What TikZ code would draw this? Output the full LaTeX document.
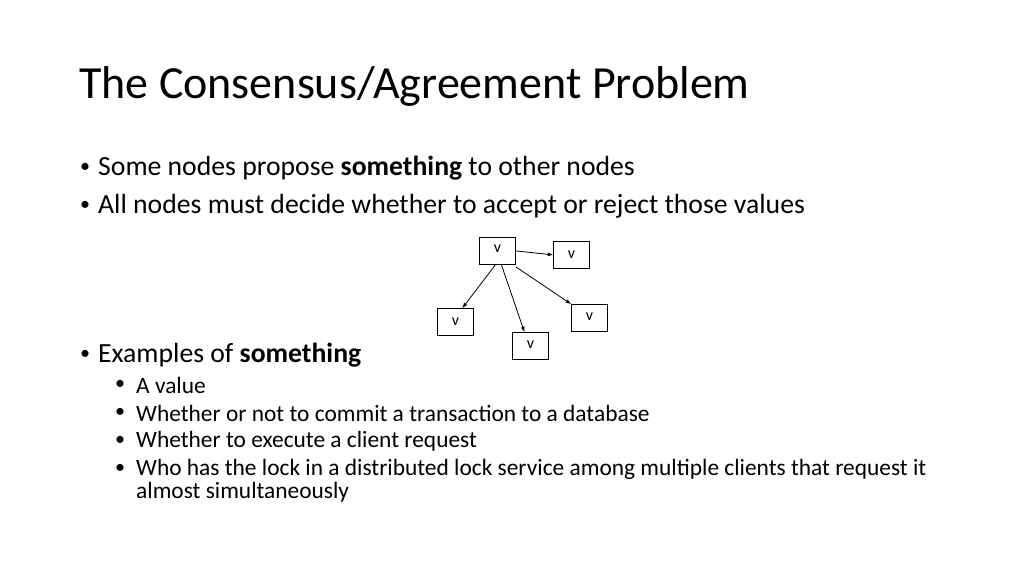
\documentclass[tikz,border=0pt]{standalone}
\usepackage{fontspec}
\setmainfont{Carlito}
\begin{document}
\begin{tikzpicture}[x=1pt,y=-1pt,
  txt/.style={anchor=west,inner sep=0pt,font=\fontsize{27.7}{32}\selectfont},
  sub/.style={anchor=west,inner sep=0pt,font=\fontsize{23.4}{27}\selectfont},
  bul/.style={anchor=west,inner sep=0pt,font=\fontsize{20}{24}\selectfont},
  vbox/.style={draw,thick,minimum width=36pt,minimum height=27pt,inner sep=0pt,font=\fontsize{16}{18}\selectfont},
  arr/.style={-latex,thick}]
\useasboundingbox (0,0) rectangle (1024,576);
\node[anchor=west,inner sep=0pt,font=\fontsize{46}{52}\selectfont] (title) at (79,86) {The Consensus/Agreement Problem};
\node[bul] (b1) at (80,168) {•};
\node[txt] (t1) at (98,168) {Some nodes propose \textbf{something} to other nodes};
\node[bul] (b2) at (80,206) {•};
\node[txt] (t2) at (98,206) {All nodes must decide whether to accept or reject those values};
\node[bul] (b3) at (80,355) {•};
\node[txt] (t3) at (98,355) {Examples of \textbf{something}};
\node[bul] (s1b) at (115,385) {•};
\node[sub] (s1) at (136,385) {A value};
\node[bul] (s2b) at (115,413) {•};
\node[sub] (s2) at (136,413) {Whether or not to commit a transaction to a database};
\node[bul] (s3b) at (115,441) {•};
\node[sub] (s3) at (136,441) {Whether to execute a client request};
\node[bul] (s4b) at (115,469) {•};
\node[sub] (s4) at (136,469) {Who has the lock in a distributed lock service among multiple clients that request it};
\node[sub] (s5) at (136,492) {almost simultaneously};
\node[vbox,anchor=north west] (a) at (479,237) {\raisebox{5pt}{v}};
\node[vbox,anchor=north west] (b) at (553,241) {\raisebox{0pt}{v}};
\node[vbox,anchor=north west] (c) at (437,308) {\raisebox{0pt}{v}};
\node[vbox,anchor=north west] (d) at (512,332) {\raisebox{3pt}{v}};
\node[vbox,anchor=north west] (e) at (571,304) {\raisebox{3pt}{v}};
\draw[arr] (a.east) -- (b.west);
\draw[arr] ([xshift=-2pt]a.south) -- ([xshift=7pt]c.north);
\draw[arr] ([xshift=4pt]a.south) -- ([xshift=-6pt]d.north);
\draw[arr] ([yshift=-2pt]a.south east) -- (e.north west);
\end{tikzpicture}
\end{document}
